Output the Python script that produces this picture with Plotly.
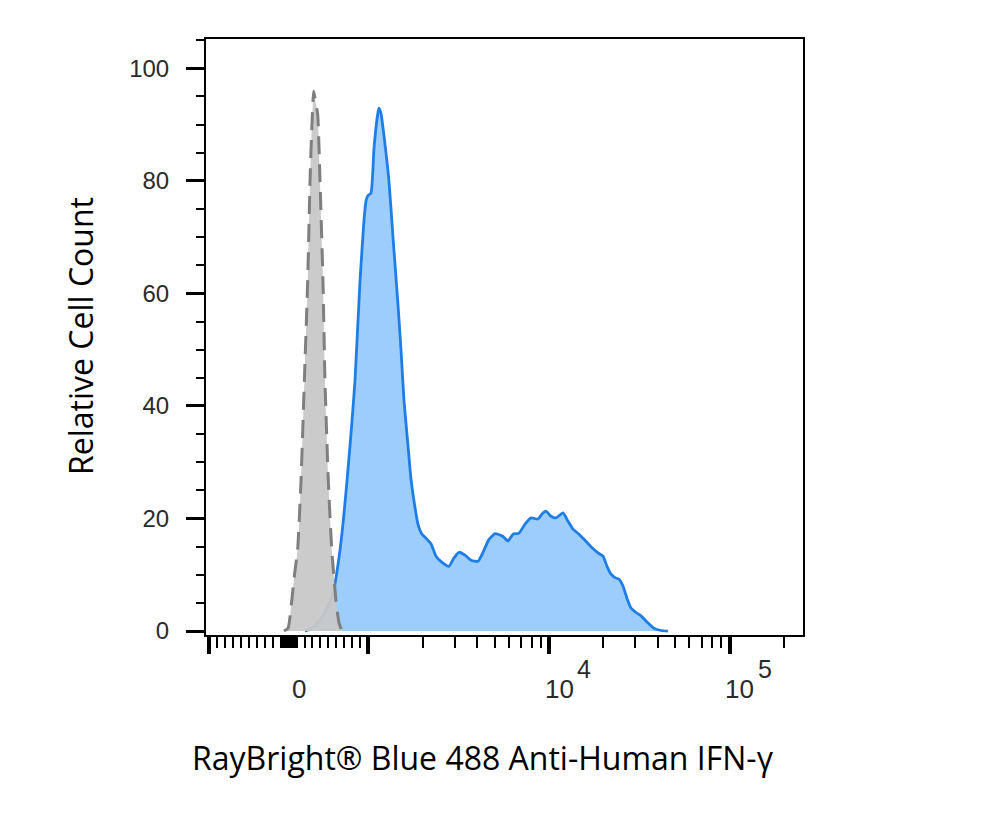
import numpy as np
import plotly.graph_objects as go

# fluorescence intensity (x) and relative count (y)
ctrl_x = [-56, -6, 40, 75, 115, 156, 198, 240, 269, 288, 315, 338, 365, 394,
          431, 456, 498, 540, 594, 631, 669]
ctrl_y = [0, 0.5, 5.3, 10, 14.7, 26.6, 44.4, 62.2, 79.9, 88, 95.9, 94, 91.8, 79.9,
          62.2, 44.4, 26.6, 14.7, 5.3, 1.5, 0]

stain_x = [206, 281, 344, 444, 556, 631, 681, 731, 781, 831, 894, 944, 969, 990,
           1032, 1073, 1124, 1143, 1173, 1219, 1299, 1367, 1457, 1514, 1573, 1655,
           1720, 1787, 1880, 1979, 2083, 2220, 2366, 2554, 2793, 2977, 3172, 3424,
           3698, 4044, 4309, 4652, 5022, 5218, 5562, 5928, 6318, 6822, 7364, 7950,
           8692, 9147, 9625, 10258, 10934, 11955, 12746, 13584, 14662, 15630, 17090,
           18683, 19920, 20960, 22055, 23210, 24425, 25700, 27043, 28460, 30340,
           32340, 34910, 38170, 41740, 45640]
stain_y = [0, 0.4, 1.2, 3, 6.6, 13, 19, 26.6, 35, 44.4, 62.2, 73, 76.4, 77.3,
           77.8, 85.8, 91.8, 92.9, 92, 88, 79.9, 70, 58, 50, 41, 33,
           27, 23.1, 19, 17.2, 16.5, 15.5, 13.3, 12.2, 11.5, 13, 14, 13.5,
           12.6, 12.4, 14, 16.3, 17.3, 17.2, 16.8, 16.0, 17.2, 17.4, 19, 20.1,
           19.9, 20.8, 21.3, 20.4, 20.1, 21.0, 19.5, 18.1, 17.2, 16.3, 15.0,
           13.9, 13.3, 11.5, 10.1, 9.5, 9.2, 8, 5.8, 4.1, 3.3,
           2.7, 1.6, 0.5, 0.1, 0]

major_ticks = [-1000, 1000, 10000, 100000]
minor_ticks = ([-v for v in range(100, 1000, 100)] + list(range(-90, 100, 10)) +
               list(range(100, 1000, 100)) + list(range(2000, 10000, 1000)) +
               list(range(20000, 100000, 10000)) + [200000])
label_vals = [0, 10000, 100000]
label_base = ["0", "10", "10"]
label_exp = ["", "4", "5"]


def biex(v):
    # linear around zero, log above 1000 (display units = decades)
    v = np.asarray(v, dtype=float)
    a = np.abs(v)
    d = np.where(a <= 1000, 0.443 * a / 1000,
                 0.443 + np.log10(np.maximum(a, 1000) / 1000))
    return np.sign(v) * d


fig = go.Figure()

fig.add_trace(go.Scatter(x=biex(stain_x), y=stain_y, mode='lines',
                         line=dict(color='#1f7de6', width=2.8, shape='spline', smoothing=0.5),
                         fill='tozeroy', fillcolor='#9dcdfb', hoverinfo='skip'))
fig.add_trace(go.Scatter(x=biex(ctrl_x), y=ctrl_y, mode='lines',
                         line=dict(color='#7f7f7f', width=3, dash='18px,10px',
                                   shape='spline', smoothing=0.5),
                         fill='tozeroy', fillcolor='rgba(200,200,200,0.95)', hoverinfo='skip'))

tick_font = dict(family='Liberation Sans, Arial', size=26, color='#2a2a2a')
annotations = []
for v, base, exp in zip(label_vals, label_base, label_exp):
    annotations.append(dict(x=float(biex(v)), y=-0.0906, xref='x', yref='paper',
                            text=base, showarrow=False, xanchor='center', yanchor='middle',
                            xshift=10, font=tick_font))
    if exp:
        annotations.append(dict(x=float(biex(v)), y=-0.057, xref='x', yref='paper',
                                text=exp, showarrow=False, xanchor='center', yanchor='middle',
                                xshift=35, font=dict(family='Liberation Sans, Arial', size=25,
                                                     color='#2a2a2a')))

annotations.append(dict(x=0.464, y=-0.206, xref='paper', yref='paper',
                        text='RayBright® Blue 488 Anti-Human IFN-γ', showarrow=False,
                        xanchor='center', yanchor='middle',
                        font=dict(family='Open Sans', size=32, color='black')))
annotations.append(dict(x=-0.209, y=0.502, xref='paper', yref='paper',
                        text='Relative Cell Count', showarrow=False, textangle=-90,
                        xanchor='center', yanchor='middle',
                        font=dict(family='Open Sans', size=32, color='black')))

fig.update_layout(
    width=1000, height=836,
    margin=dict(l=198, r=205, t=31, b=209),
    paper_bgcolor='white', plot_bgcolor='white',
    showlegend=False,
    annotations=annotations,
    xaxis=dict(range=[-0.457, 2.850], showgrid=False, zeroline=False,
               showline=True, mirror=True, linecolor='black', linewidth=2,
               tickmode='array', tickvals=list(biex(major_ticks)), ticktext=[''] * 4,
               ticks='outside', ticklen=17, tickwidth=4, tickcolor='black',
               minor=dict(tickmode='array', tickvals=list(biex(minor_ticks)),
                          ticks='outside', ticklen=11, tickwidth=2, tickcolor='black')),
    yaxis=dict(range=[-0.7, 105.2], showgrid=False, zeroline=False,
               showline=True, mirror=True, linecolor='black', linewidth=2,
               tickmode='array', tickvals=[0, 20, 40, 60, 80, 100],
               ticks='outside', ticklen=18, tickwidth=3, tickcolor='black',
               ticklabelstandoff=12, tickfont=dict(family='Liberation Sans, Arial', size=24,
                                                   color='#2a2a2a'),
               minor=dict(dtick=5, ticks='outside', ticklen=8, tickwidth=2, tickcolor='black')),
)

fig.write_html("out.html")
